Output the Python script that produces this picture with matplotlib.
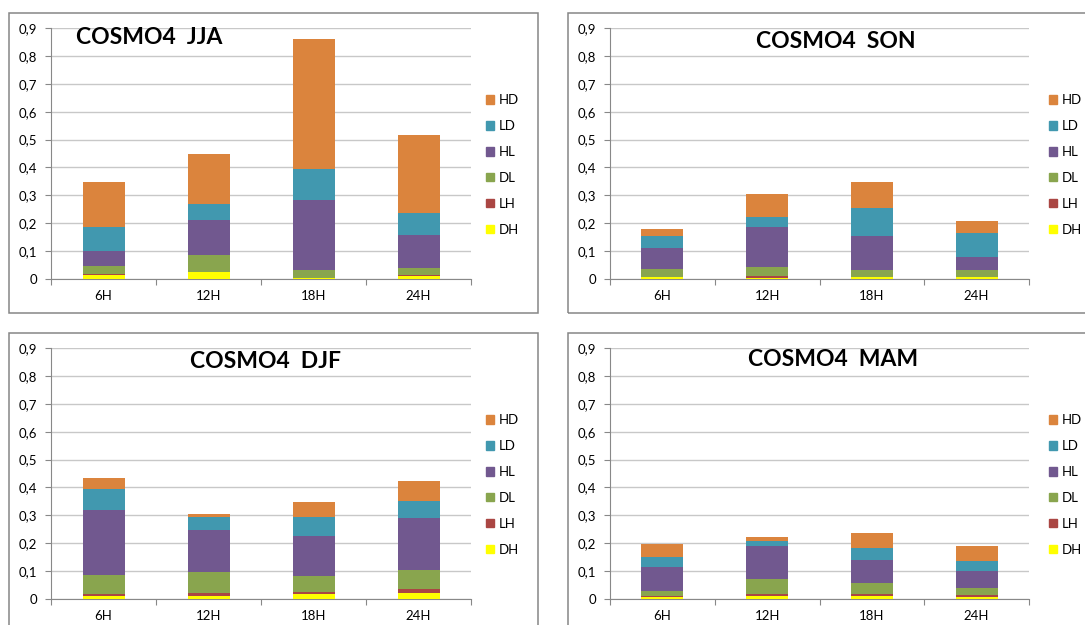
import matplotlib
matplotlib.use('Agg')
import matplotlib.pyplot as plt
from matplotlib.patches import Rectangle, Patch
import numpy as np

W, H = 1085, 625

hours = ['6H', '12H', '18H', '24H']
# stacking order, bottom to top
series = ['DH', 'LH', 'DL', 'HL', 'LD', 'HD']
colors = {'DH': '#FFFF00', 'LH': '#AA4643', 'DL': '#89A54E',
          'HL': '#71588F', 'LD': '#4198AF', 'HD': '#DB843D'}

jja = {'DH': [0.013, 0.025, 0.004, 0.012],
       'LH': [0.004, 0.001, 0.001, 0.002],
       'DL': [0.030, 0.059, 0.027, 0.027],
       'HL': [0.055, 0.125, 0.253, 0.116],
       'LD': [0.083, 0.059, 0.109, 0.080],
       'HD': [0.163, 0.180, 0.465, 0.280]}

son = {'DH': [0.006, 0.003, 0.007, 0.007],
       'LH': [0.002, 0.008, 0.001, 0.001],
       'DL': [0.029, 0.032, 0.023, 0.023],
       'HL': [0.075, 0.142, 0.123, 0.048],
       'LD': [0.043, 0.036, 0.102, 0.085],
       'HD': [0.026, 0.083, 0.092, 0.043]}

djf = {'DH': [0.010, 0.012, 0.017, 0.022],
       'LH': [0.008, 0.008, 0.008, 0.013],
       'DL': [0.069, 0.078, 0.057, 0.068],
       'HL': [0.233, 0.151, 0.145, 0.186],
       'LD': [0.073, 0.044, 0.067, 0.062],
       'HD': [0.041, 0.012, 0.055, 0.073]}

mam = {'DH': [0.007, 0.012, 0.010, 0.008],
       'LH': [0.003, 0.007, 0.007, 0.008],
       'DL': [0.020, 0.054, 0.042, 0.023],
       'HL': [0.084, 0.116, 0.082, 0.061],
       'LD': [0.035, 0.018, 0.041, 0.036],
       'HD': [0.047, 0.016, 0.053, 0.055]}

plt.rcParams['font.family'] = ['Lato', 'DejaVu Sans']
FS = 9.5


def box(l, t, r, b):
    # pixel box -> figure fraction [left, bottom, width, height]
    return [l / W, 1 - b / H, (r - l) / W, (b - t) / H]


fig = plt.figure(figsize=(W / 100, H / 100), dpi=100)
fig.patch.set_facecolor('white')

# panel frames
for l, t, r, b in [(9, 13, 538, 313), (568, 13, 1100, 313),
                   (9, 333, 538, 640), (568, 333, 1100, 640)]:
    fig.patches.append(Rectangle((l / W, 1 - b / H), (r - l) / W, (b - t) / H,
                                 transform=fig.transFigure, fill=False,
                                 edgecolor='#868686', linewidth=1.1))

panels = [
    (jja, 'COSMO4  JJA', (51, 28, 471, 279), (76, 37, 'left'), (486, 100)),
    (son, 'COSMO4  SON', (610, 28, 1029, 279), (836, 41, 'center'), (1049, 100)),
    (djf, 'COSMO4  DJF', (51, 348, 471, 599), (266, 361, 'center'), (486, 420)),
    (mam, 'COSMO4  MAM', (610, 348, 1029, 599), (833, 359, 'center'), (1049, 420)),
]

x = np.arange(len(hours))
for data, title, pos, tpos, lpos in panels:
    ax = fig.add_axes(box(*pos))
    bottom = np.zeros(len(hours))
    for s in series:
        vals = np.array(data[s])
        ax.bar(x, vals, width=0.4, bottom=bottom, color=colors[s],
               linewidth=0, zorder=3)
        bottom += vals

    ax.set_xlim(-0.5, 3.5)
    ax.set_ylim(0, 0.9)
    ax.set_yticks(np.arange(0, 0.91, 0.1))
    ax.set_yticklabels(['0'] + ['0,%d' % i for i in range(1, 10)], fontsize=FS)
    ax.yaxis.grid(True, color='#C8C8C8', linewidth=1, zorder=0)
    ax.set_axisbelow(True)

    ax.set_xticks(np.arange(-0.5, 4, 1))
    ax.set_xticklabels([])
    ax.set_xticks(x, minor=True)
    ax.set_xticklabels(hours, minor=True, fontsize=FS)
    ax.tick_params(axis='x', which='major', length=4, color='#888888', direction='out')
    ax.tick_params(axis='x', which='minor', length=0, pad=8)
    ax.tick_params(axis='y', length=4, color='#888888', pad=6)

    for side in ['top', 'right']:
        ax.spines[side].set_visible(False)
    for side in ['left', 'bottom']:
        ax.spines[side].set_color('#888888')

    fig.text(tpos[0] / W, 1 - tpos[1] / H, title, ha=tpos[2], va='center',
             fontsize=16.5, fontweight='bold')

    handles = [Patch(color=colors[s], label=s) for s in reversed(series)]
    fig.legend(handles=handles, loc='upper left',
               bbox_to_anchor=(lpos[0] / W, 1 - (lpos[1] - 6) / H),
               frameon=False, fontsize=FS, handlelength=0.6, handleheight=0.6,
               handletextpad=0.4, labelspacing=1.06, borderpad=0, borderaxespad=0)

fig.savefig('out.png', dpi=100)
